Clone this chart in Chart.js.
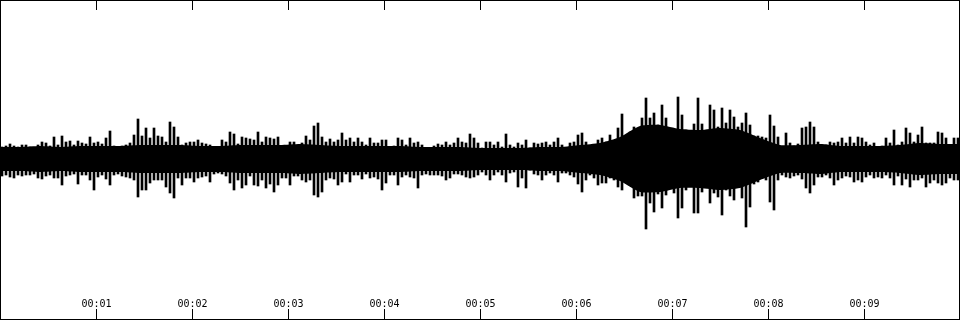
<!DOCTYPE html>
<html>
<head>
<meta charset="utf-8">
<script src="https://cdn.jsdelivr.net/npm/chart.js@4/dist/chart.umd.min.js"></script>
<style>
  html, body { margin: 0; padding: 0; background: #ffffff; }
  #wrap { width: 960px; height: 320px; }
</style>
</head>
<body>
<div id="wrap"><canvas id="c" width="960" height="320"></canvas></div>
<script>
// Recording length in seconds
const DURATION = 10;

// Peak amplitude above the centre line, one value per waveform bin (240 bins over 10 s)
const TOP = [
  11,12,14,12,11,13,13,11,10,13, 16,15,12,21,13,22,16,17,13,17,
  15,14,21,15,16,14,20,27,12,11, 12,13,15,23,39,22,30,20,30,22,
  21,16,36,31,21,13,15,16,16,18, 15,14,13,10,11,18,16,26,24,14,
  21,20,19,18,26,16,21,20,19,21, 12,12,16,16,12,15,22,18,32,35,
  21,16,19,16,18,25,18,20,16,20, 16,13,20,15,15,18,18,11,12,20,
  18,13,20,15,16,13,10,10,12,14, 13,16,13,15,20,16,15,24,20,15,
  10,16,16,13,16,11,24,13,11,15, 13,18,10,15,14,15,16,13,16,20,
  13,10,15,16,23,25,16,11,13,18, 20,16,23,16,30,44,21,26,31,26,
  40,60,40,45,33,53,40,22,27,61, 43,28,22,34,60,34,23,53,48,31,
  50,35,48,41,31,35,45,33,22,22, 21,20,43,32,21,10,25,15,12,14,
  30,31,36,31,16,13,13,16,15,16, 20,15,21,15,21,20,16,13,15,10,
  12,20,15,28,13,16,30,25,16,23, 31,15,15,15,26,25,20,13,20,20
];

// Peak amplitude below the centre line, same bins
const BOTTOM = [
  18,17,19,20,17,18,17,17,16,20, 21,18,17,20,20,27,18,17,16,26,
  17,17,22,32,19,17,21,27,17,16, 18,19,20,22,39,32,32,25,22,22,
  22,29,35,40,20,27,20,20,24,20, 19,18,24,16,15,16,18,25,32,22,
  30,27,18,27,28,22,30,26,34,27, 20,20,27,18,18,22,24,22,37,39,
  34,22,20,21,27,24,16,24,17,17, 21,16,20,19,21,32,25,17,17,27,
  19,17,19,20,30,17,16,17,17,17, 18,22,20,16,16,17,19,20,19,17,
  14,17,22,17,14,17,24,15,14,29, 20,30,12,16,17,22,17,15,17,24,
  15,15,17,19,26,34,22,17,20,27, 25,25,20,22,29,32,25,27,40,38,
  38,71,45,54,36,50,37,25,35,60, 50,32,24,55,55,34,29,45,35,39,
  57,32,38,42,29,40,69,49,26,24, 17,22,44,52,22,17,19,20,18,17,
  21,30,35,27,19,19,17,20,27,22, 20,18,19,24,22,24,19,17,20,19,
  20,17,20,27,18,27,21,29,22,22, 20,29,25,22,25,27,25,20,22,22
];

// Dense body of the waveform (solid band), sampled at 49 evenly spaced instants
const CORE_UP = [
  11,11,12,11,12,12,12,13,13,13, 12,12,13,13,13,14,13,12,12,12,
  12,11,11,11,10,10,10,11,11,13, 15,21,32,33,29,28,30,28,20,13,
  13,14,12,12,12,13,15,14,14
];
const CORE_DOWN = [
  13,13,14,13,14,14,14,15,15,15, 14,14,15,15,15,16,15,14,14,14,
  14,13,13,13,12,12,12,13,13,15, 17,23,34,34,30,30,32,30,22,15,
  15,16,14,14,14,15,17,16,16
];

// Time axis
const TICK_SECONDS = [1,2,3,4,5,6,7,8,9];
const TICK_LABELS = ["00:01","00:02","00:03","00:04","00:05","00:06","00:07","00:08","00:09"];

const binSec = DURATION / TOP.length;
const coreStep = DURATION / (CORE_UP.length - 1);

const spikeData = TOP.map((t, i) => ({ x: (i + 0.5) * binSec, y: [-BOTTOM[i], t] }));
const coreUpData = CORE_UP.map((v, i) => ({ x: i * coreStep, y: v }));
const coreDownData = CORE_DOWN.map((v, i) => ({ x: i * coreStep, y: -v }));

const frame = {
  id: 'frame',
  afterDraw(chart) {
    const ctx = chart.ctx;
    const xs = chart.scales.x;
    const W = chart.width, H = chart.height;
    ctx.save();
    ctx.strokeStyle = '#000';
    ctx.lineWidth = 1;
    ctx.strokeRect(0.5, 0.5, W - 1, H - 1);
    ctx.beginPath();
    TICK_SECONDS.forEach(s => {
      const px = Math.round(xs.getPixelForValue(s)) + 0.5;
      ctx.moveTo(px, 0); ctx.lineTo(px, 10);
      ctx.moveTo(px, H - 11); ctx.lineTo(px, H);
    });
    ctx.stroke();
    ctx.fillStyle = '#000';
    ctx.font = '10px "DejaVu Sans Mono", monospace';
    ctx.textAlign = 'center';
    ctx.textBaseline = 'alphabetic';
    TICK_SECONDS.forEach((s, i) => {
      const px = Math.round(xs.getPixelForValue(s)) + 0.5;
      ctx.fillText(TICK_LABELS[i], px, H - 13);
    });
    ctx.restore();
  }
};

new Chart(document.getElementById('c'), {
  type: 'bar',
  data: {
    datasets: [
      {
        type: 'line', data: coreUpData, borderWidth: 0, pointRadius: 0,
        backgroundColor: '#000', borderColor: '#000', fill: 'origin', tension: 0.2
      },
      {
        type: 'line', data: coreDownData, borderWidth: 0, pointRadius: 0,
        backgroundColor: '#000', borderColor: '#000', fill: 'origin', tension: 0.2
      },
      {
        type: 'bar', data: spikeData, backgroundColor: '#000', borderWidth: 0,
        barThickness: 2, grouped: false, borderSkipped: false
      }
    ]
  },
  options: {
    responsive: false,
    animation: false,
    devicePixelRatio: 1,
    layout: { padding: 0 },
    plugins: { legend: { display: false }, tooltip: { enabled: false } },
    scales: {
      x: { type: 'linear', min: 0, max: DURATION, offset: false, display: false },
      y: { type: 'linear', min: -162, max: 158, display: false }
    }
  },
  plugins: [frame]
});
</script>
</body>
</html>
